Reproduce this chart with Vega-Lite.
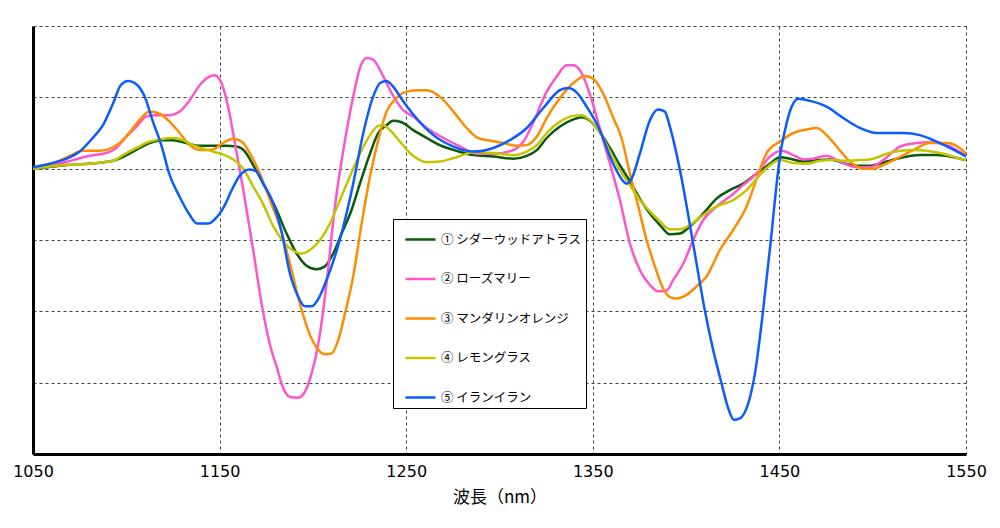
{
  "$schema": "https://vega.github.io/schema/vega-lite/v6.json",
  "width": 933,
  "height": 428,
  "autosize": {"type": "none"},
  "padding": {"left": 33, "top": 26, "right": 34, "bottom": 74},
  "background": "white",
  "config": {"view": {"stroke": null}, "font": "DejaVu Sans"},
  "data": {
    "values": [
      {"s": "① シダーウッドアトラス",
       "w": [1050,1058,1068,1080,1093,1098,1105,1112.5,1119.6,1125,1132,1139.3,1146.4,1153.6,1159,1163.6,1168,1173.4,1179.7,1185.9,1191.3,1196.6,1202,1206.4,1210.9,1215.4,1220.7,1225.2,1230.6,1235,1239.5,1243,1247.5,1253.8,1261,1268,1277,1286,1296.7,1307.4,1314.6,1320,1325.3,1332.4,1339.6,1344,1348.5,1353.8,1359.2,1364.5,1369.9,1375.2,1380.6,1386,1391.3,1396.7,1402,1409.2,1416.3,1423.5,1430.6,1437.7,1444.9,1450.3,1455.7,1462.8,1470,1477.1,1484.2,1491.4,1498.5,1507.5,1516.4,1525.3,1534.3,1543.2,1550],
       "v": [0,0.02,0.05,0.07,0.11,0.16,0.26,0.36,0.40,0.40,0.36,0.32,0.32,0.32,0.31,0.24,0.05,-0.21,-0.53,-0.91,-1.19,-1.36,-1.41,-1.37,-1.19,-0.91,-0.58,-0.21,0.21,0.50,0.61,0.67,0.65,0.54,0.43,0.33,0.25,0.19,0.17,0.14,0.18,0.26,0.43,0.59,0.69,0.72,0.67,0.51,0.29,0.05,-0.18,-0.42,-0.63,-0.79,-0.92,-0.91,-0.81,-0.63,-0.42,-0.30,-0.21,-0.07,0.07,0.16,0.14,0.10,0.12,0.13,0.08,0.04,0.04,0.10,0.16,0.19,0.19,0.16,0.12]},
      {"s": "② ローズマリー",
       "w": [1050,1060.7,1071.4,1080.4,1089.3,1094.6,1100,1105.4,1110.7,1116,1123.2,1128.6,1134,1139.3,1143.8,1147.3,1151,1154.7,1158.2,1162.7,1168,1172.5,1177,1180.6,1184.1,1187.7,1192.2,1195.7,1199.3,1203.8,1207.3,1211.8,1217.2,1221.6,1225.2,1228.8,1232.3,1236.8,1242.2,1248.4,1253.8,1261,1270,1279,1287.8,1296.7,1307.4,1312.8,1318,1325.3,1330.6,1336,1339.6,1344,1348.5,1353.8,1359.2,1364.5,1369.9,1375.2,1380.6,1385,1389.5,1393.1,1398.5,1403.8,1409.2,1416.3,1423.5,1430.6,1437.7,1445,1451.2,1457.5,1462.8,1468.2,1475.3,1482.5,1491.4,1498.5,1505.7,1514.6,1523.5,1530.7,1539.6,1550],
       "v": [0.01,0.05,0.12,0.18,0.22,0.29,0.45,0.59,0.73,0.75,0.75,0.80,0.96,1.17,1.28,1.31,1.20,0.85,0.36,-0.30,-1.14,-1.89,-2.47,-2.78,-3.08,-3.20,-3.21,-3.13,-2.87,-2.31,-1.61,-0.53,0.40,1.01,1.41,1.55,1.53,1.34,1.06,0.82,0.73,0.57,0.43,0.31,0.21,0.21,0.26,0.38,0.64,1.08,1.29,1.45,1.45,1.34,1.04,0.56,0.07,-0.44,-1.05,-1.42,-1.63,-1.72,-1.71,-1.56,-1.33,-1.00,-0.72,-0.53,-0.39,-0.23,-0.07,0.17,0.25,0.19,0.13,0.14,0.18,0.10,0.02,0.02,0.12,0.31,0.36,0.37,0.33,0.18]},
      {"s": "③ マンダリンオレンジ",
       "w": [1050,1060.7,1069.6,1076.8,1085.7,1092.9,1098.2,1103.6,1108,1112.5,1117.9,1123.2,1128.6,1134,1139.3,1146.4,1151.8,1157.3,1161.8,1166.3,1171.6,1177,1182.3,1187.7,1193,1198.4,1202.9,1206.4,1210,1213.6,1217.2,1221.6,1226.1,1230.6,1235,1239.5,1244.8,1250.2,1257.3,1261,1268,1275.3,1282.4,1287.8,1295,1302,1309.2,1314.6,1320,1325.3,1332.4,1339.6,1345.8,1350.3,1355.6,1361,1365.4,1369.9,1374.4,1378.8,1383.3,1387.7,1391.3,1394.9,1400.2,1405.6,1411,1418.1,1425.2,1432.4,1437.7,1443.2,1450.3,1457.5,1464.6,1470,1475.3,1480.7,1487.8,1495,1500.3,1505.7,1512.8,1521.7,1530.7,1539.6,1546.7,1550],
       "v": [0,0.07,0.18,0.25,0.25,0.30,0.40,0.57,0.71,0.80,0.77,0.66,0.50,0.33,0.26,0.27,0.36,0.42,0.38,0.21,-0.07,-0.44,-0.81,-1.33,-1.89,-2.33,-2.54,-2.60,-2.59,-2.40,-2.03,-1.51,-0.77,-0.11,0.40,0.80,0.99,1.08,1.10,1.10,1.01,0.80,0.57,0.44,0.39,0.36,0.32,0.33,0.45,0.71,0.99,1.20,1.30,1.26,1.05,0.71,0.43,-0.07,-0.53,-1.00,-1.37,-1.68,-1.80,-1.82,-1.77,-1.65,-1.51,-1.14,-0.86,-0.53,-0.15,0.22,0.38,0.50,0.55,0.57,0.47,0.31,0.10,0.00,0.00,0.05,0.14,0.26,0.36,0.36,0.29,0.21]},
      {"s": "④ レモングラス",
       "w": [1050,1068,1080.4,1092.9,1098.2,1105.4,1112.5,1117.9,1125,1130.4,1135.7,1141,1146.4,1151.8,1157.3,1162.7,1168,1173.4,1178.8,1184.1,1189.5,1193.9,1198.4,1203.8,1209.1,1214.5,1219.8,1225.2,1230.6,1235,1237.7,1241.3,1246.6,1252,1257.3,1261,1268,1277,1286,1296.7,1307.4,1314.6,1320,1325.3,1332.4,1339.6,1344,1348.5,1353.8,1359.2,1364.5,1369.9,1375.2,1380.6,1386,1391.3,1396.7,1402,1409.2,1416.3,1425.2,1432.4,1439.5,1445,1450.3,1457.5,1464.6,1471.7,1478.9,1486,1493.2,1500.3,1507.5,1514.6,1521.7,1528.9,1537.8,1546.7,1550],
       "v": [0,0.05,0.07,0.11,0.19,0.29,0.38,0.41,0.43,0.40,0.33,0.28,0.24,0.20,0.13,0.00,-0.25,-0.50,-0.81,-1.02,-1.15,-1.19,-1.14,-1.00,-0.77,-0.44,-0.11,0.21,0.47,0.60,0.61,0.54,0.38,0.22,0.12,0.09,0.10,0.16,0.23,0.22,0.19,0.24,0.33,0.50,0.66,0.74,0.75,0.68,0.51,0.24,-0.02,-0.23,-0.44,-0.60,-0.74,-0.85,-0.85,-0.79,-0.65,-0.53,-0.44,-0.30,-0.09,0.05,0.12,0.08,0.07,0.11,0.12,0.11,0.12,0.14,0.21,0.25,0.26,0.25,0.21,0.14,0.12]},
      {"s": "⑤ イランイラン",
       "w": [1050,1059,1068,1075,1082,1087.5,1093,1097,1101,1106,1110,1114,1119,1123,1128.5,1134,1138,1144,1147,1150,1153,1155.6,1161,1166,1169.8,1173.4,1178.8,1183,1187.7,1192,1195.7,1199.3,1203,1207.3,1211.8,1216.3,1221.6,1227,1232.3,1236,1239.5,1243,1248,1253.8,1264.6,1275.3,1286,1296.7,1305.6,1314.6,1323.5,1332.4,1336.9,1341.3,1346.7,1353.8,1359.2,1363.6,1368,1370.8,1375.2,1380.6,1385,1388.6,1391.3,1396.7,1401,1405.6,1410,1414.5,1419,1422.6,1425.6,1428.8,1433.3,1436.9,1441.3,1445.8,1447.6,1450.3,1453,1456.6,1460.1,1466.4,1475.3,1484.2,1493.2,1502.1,1511,1516.4,1525.3,1532.5,1541.4,1550],
       "v": [0.02,0.07,0.14,0.24,0.43,0.61,0.92,1.17,1.23,1.17,1.00,0.68,0.31,-0.07,-0.39,-0.65,-0.77,-0.77,-0.72,-0.63,-0.50,-0.35,-0.09,-0.01,-0.04,-0.21,-0.49,-0.86,-1.47,-1.79,-1.93,-1.93,-1.82,-1.56,-1.23,-0.81,-0.21,0.50,1.01,1.20,1.23,1.15,0.96,0.76,0.47,0.31,0.24,0.29,0.40,0.57,0.85,1.10,1.13,1.07,0.87,0.54,0.17,-0.07,-0.21,-0.14,0.21,0.68,0.83,0.80,0.59,-0.02,-0.63,-1.33,-1.98,-2.54,-3.01,-3.36,-3.52,-3.50,-3.29,-2.87,-1.98,-0.91,-0.44,0.17,0.54,0.87,0.98,0.95,0.87,0.71,0.57,0.50,0.50,0.50,0.47,0.40,0.29,0.17]}
    ]
  },
  "transform": [{"flatten": ["w", "v"]}],
  "mark": {"type": "line", "strokeWidth": 2.5, "interpolate": "monotone"},
  "encoding": {
    "x": {
      "field": "w",
      "type": "quantitative",
      "scale": {"domain": [1050, 1550], "nice": false, "zero": false},
      "axis": {
        "values": [1050, 1150, 1250, 1350, 1450, 1550],
        "format": "d",
        "title": "波長（nm）",
        "titleFont": "Noto Sans CJK JP",
        "titleFontSize": 17,
        "titleFontWeight": "normal",
        "titleColor": "black",
        "titlePadding": 10,
        "labelFontSize": 16,
        "labelColor": "black",
        "labelPadding": 9,
        "labelFlush": false,
        "ticks": false,
        "domainColor": "black",
        "domainWidth": 3,
        "grid": true,
        "gridColor": "#444",
        "gridDash": [3, 3],
        "gridWidth": 1,
        "gridOpacity": {"condition": {"test": "datum.value === 1050", "value": 0}, "value": 1}
      }
    },
    "y": {
      "field": "v",
      "type": "quantitative",
      "scale": {"domain": [-4, 2], "nice": false},
      "axis": {
        "values": [-3, -2, -1, 0, 1, 2],
        "labels": false,
        "ticks": false,
        "title": null,
        "domainColor": "black",
        "domainWidth": 3,
        "grid": true,
        "gridColor": "#444",
        "gridDash": [3, 3],
        "gridWidth": 1
      }
    },
    "color": {
      "field": "s",
      "type": "nominal",
      "scale": {
        "domain": ["① シダーウッドアトラス", "② ローズマリー", "③ マンダリンオレンジ", "④ レモングラス", "⑤ イランイラン"],
        "range": ["#0b5a0b", "#ff55cc", "#ff8c00", "#c4c400", "#0a5cff"]
      },
      "legend": {
        "orient": "none",
        "legendX": 360,
        "legendY": 193,
        "title": null,
        "symbolType": "stroke",
        "symbolSize": 900,
        "symbolStrokeWidth": 2.5,
        "symbolOffset": 7,
        "labelOffset": 4,
        "labelFont": "Noto Sans CJK JP",
        "labelFontSize": 12.5,
        "labelColor": "black",
        "strokeColor": "black",
        "fillColor": "white",
        "padding": 4,
        "rowPadding": 16.5
      }
    }
  }
}
